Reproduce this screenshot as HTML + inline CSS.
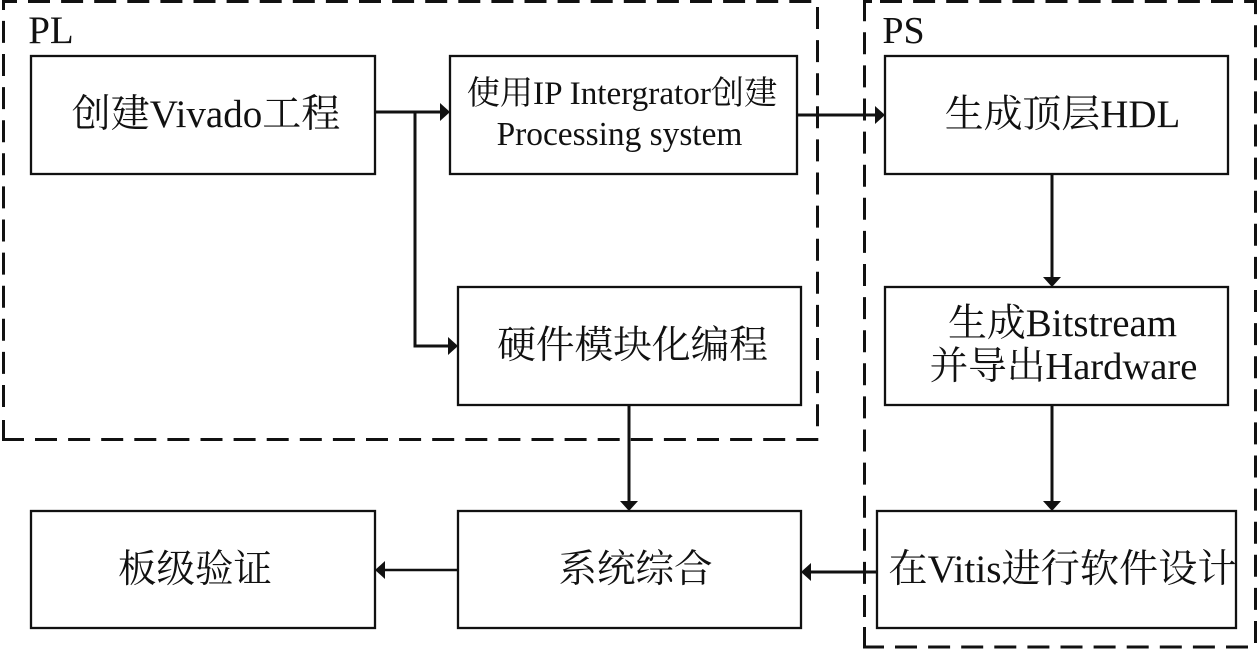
<!DOCTYPE html>
<html><head><meta charset="utf-8"><style>html,body{margin:0;padding:0;background:#fff}svg{display:block}text{font-family:"Liberation Serif","Noto Serif CJK SC",serif;fill:#111;text-anchor:middle}</style></head><body>
<svg width="1260" height="650" viewBox="0 0 1260 650" xmlns="http://www.w3.org/2000/svg">
<rect width="1260" height="650" fill="#fff"/>
<g fill="none" stroke="#111" stroke-width="3" stroke-dasharray="22 11.1">
<path d="M3.5 407V0"/>
<path d="M28 1.5H812"/>
<path d="M817.5 7V427"/>
<path d="M35 439.5H818.5"/>
<path d="M864.5 617V8"/>
<path d="M880 1.5H1250"/>
<path d="M1255.5 643V5"/>
<path d="M1248 647H884"/>
</g>
<g fill="none" stroke="#111" stroke-width="3">
<path d="M3.5 10V1.5H17"/>
<path d="M3.500 420V439.500H24"/>
<path d="M864.5 8V1.5H872"/>
<path d="M864.5 627V647H884"/>
<path d="M1245 1.5H1255.5V5"/>
</g>
<g fill="#fff" stroke="#111" stroke-width="2.300">
<rect x="31" y="56" width="344" height="118"/>
<rect x="450" y="56" width="347" height="118"/>
<rect x="885" y="56" width="343" height="118"/>
<rect x="458" y="287" width="343" height="118"/>
<rect x="885" y="287" width="343" height="118"/>
<rect x="31" y="511" width="344" height="117"/>
<rect x="458" y="511" width="343" height="117"/>
<rect x="877" y="511" width="359" height="117"/>
</g>
<g fill="none" stroke="#111" stroke-width="3">
<path d="M375 112H442M415 112V346H449M797 115H876M1052 174V278M629 405V502M1052 405V502M877 572H810"/>
</g>
<path d="M458 570H384" fill="none" stroke="#111" stroke-width="2.600"/>
<g fill="#111">
<path d="M450 112l-10-9v18zM458 346l-10-9v18zM885 115l-10-9v18zM1052 287l-9-10h18zM629 511l-9-10h18zM1052 511l-9-10h18zM375 570l10-9v18zM801 572l10-9v18z"/>
</g>
<text x="51" y="43" font-size="39">PL</text>
<text x="903.500" y="43" font-size="38">PS</text>
<text x="206" y="127" font-size="39">创建Vivado工程</text>
<text x="622" y="104" font-size="33.200">使用IP Intergrator创建</text>
<text x="619.500" y="145" font-size="33.400">Processing system</text>
<text x="1062.500" y="127" font-size="38.900">生成顶层HDL</text>
<text x="632.600" y="358" font-size="38.700">硬件模块化编程</text>
<text x="1062.500" y="336" font-size="38.900">生成Bitstream</text>
<text x="1063.500" y="379" font-size="38.600">并导出Hardware</text>
<text x="195" y="582" font-size="38.500">板级验证</text>
<text x="635.500" y="582" font-size="38.500">系统综合</text>
<text x="1062.500" y="582" font-size="39.200">在Vitis进行软件设计</text>
</svg></body></html>
